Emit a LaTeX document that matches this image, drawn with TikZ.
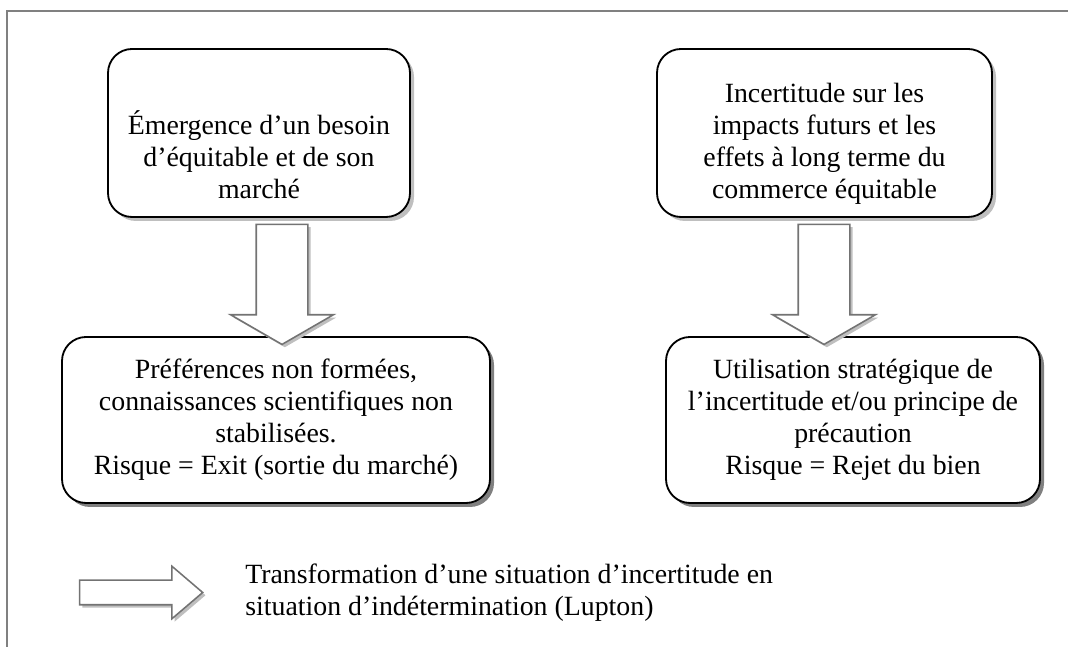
\documentclass[tikz,border=0pt]{standalone}
\usepackage{fontspec}
\setmainfont{Liberation Serif}
\usetikzlibrary{shapes.arrows,shadows}

\begin{document}
\begin{tikzpicture}[
  box/.style={draw=black,line width=1.3pt,rounded corners=0.6cm,fill=white,align=center,font=\fontsize{19.8}{22.8}\selectfont,inner sep=2pt},
  topshadow/.style={drop shadow={shadow xshift=0.1cm,shadow yshift=-0.1cm,fill=black!25,opacity=1}},
  lowshadow/.style={drop shadow={shadow xshift=0.1cm,shadow yshift=-0.1cm,fill=black!50,opacity=1}},
  blockarrow/.style={single arrow,draw=black!55,line width=1.1pt,fill=white,drop shadow={shadow xshift=0.07cm,shadow yshift=-0.07cm,fill=black!25,opacity=1}},
  downarrow/.style={blockarrow,shape border rotate=270,inner sep=0.625cm,minimum height=3cm,minimum width=2.525cm,single arrow head extend=0.64cm,single arrow tip angle=120}
]
\useasboundingbox (0,0) rectangle (26.7,16.175);
% frame, top and left side only
\coordinate (framebl) at (0.175,0);
\coordinate (frametl) at (0.175,15.9);
\coordinate (frametr) at (26.7,15.9);
\draw[black!50,line width=1pt] (framebl) -- (frametl) -- (frametr);
% boxes
\node[box,topshadow,minimum width=7.55cm,minimum height=4.2cm,text height=3.3cm,text depth=0pt] (emergence) at (6.475,12.85) {Émergence d’un besoin\\d’équitable et de son\\marché};
\node[box,topshadow,minimum width=8.375cm,minimum height=4.2cm,text height=3.3cm,text depth=0pt] (incertitude) at (20.6125,12.85) {Incertitude sur les\\impacts futurs et les\\effets à long terme du\\commerce équitable};
\node[box,lowshadow,minimum width=10.7cm,minimum height=4.15cm] (preferences) at (6.9,5.675) {Préférences non formées,\\connaissances scientifiques non\\stabilisées.\\Risque = Exit (sortie du marché)};
\node[box,lowshadow,minimum width=9.35cm,minimum height=4.15cm] (utilisation) at (21.325,5.675) {Utilisation stratégique de\\l’incertitude et/ou principe de\\précaution\\Risque = Rejet du bien};
% block arrows
\node[downarrow] (arrleft) at (7.05,9.25) {};
\node[downarrow] (arrright) at (20.6,9.25) {};
% legend
\node[blockarrow,inner sep=0.2875cm,minimum height=3.075cm,minimum width=1.275cm,single arrow head extend=0.35cm,single arrow tip angle=81] (arrlegend) at (3.35,1.3625) {};
\node[anchor=west,align=left,font=\fontsize{19.8}{22.8}\selectfont,inner sep=0pt] (legend) at (6.125,1.3625) {Transformation d’une situation d’incertitude en\\situation d’indétermination (Lupton)};
\end{tikzpicture}
\end{document}
